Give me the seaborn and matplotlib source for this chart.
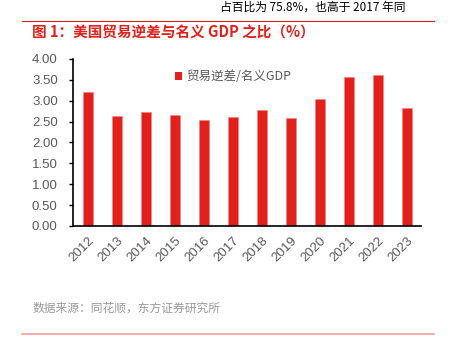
import seaborn as sns
import matplotlib.pyplot as plt
import pandas as pd
from matplotlib.lines import Line2D
from matplotlib.patches import Patch

plt.rcParams['font.family'] = ['Noto Sans CJK SC', 'DejaVu Sans']

YEARS = ["2012", "2013", "2014", "2015", "2016", "2017",
         "2018", "2019", "2020", "2021", "2022", "2023"]
RATIO = [3.22, 2.64, 2.74, 2.67, 2.54, 2.62, 2.79, 2.59, 3.05, 3.58, 3.62, 2.82]
SERIES = "贸易逆差/名义GDP"
TITLE = "图 1：美国贸易逆差与名义 GDP 之比（%）"
SOURCE = "数据来源：同花顺，东方证券研究所"
TOP_TEXT = "占百比为 75.8%，也高于 2017 年同"

RED = "#e2211c"
GRAY = "#595959"


def plot(df):
    fig = plt.figure(figsize=(4.49, 3.52), dpi=100)
    ax = fig.add_axes([0.1626, 0.358, 0.775, 0.4744])

    sns.barplot(x="year", y="ratio", data=df, ax=ax, color=RED,
                width=0.32, saturation=1, edgecolor="#f08080", linewidth=0.4)

    ax.set_ylim(0, 4)
    ax.set_xlim(-0.52, 11.48)
    ax.set_yticks([0, 0.5, 1, 1.5, 2, 2.5, 3, 3.5, 4])
    ax.set_yticklabels([f"{v:.2f}" for v in ax.get_yticks()], fontsize=9.5, color=GRAY,
                       family=['Liberation Sans', 'DejaVu Sans'])
    ax.set_xticks(range(len(YEARS)))
    ax.set_xticklabels(YEARS, rotation=45, ha="right", rotation_mode="anchor",
                       fontsize=9.5, color=GRAY, family=['Liberation Sans', 'DejaVu Sans'])
    ax.tick_params(axis="x", length=0, pad=6)
    ax.tick_params(axis="y", length=3, width=1, color="black", pad=8)
    ax.set_xlabel("")
    ax.set_ylabel("")
    for s in ["top", "right"]:
        ax.spines[s].set_visible(False)
    ax.spines["left"].set_linewidth(1.2)
    ax.spines["bottom"].set_linewidth(1.2)

    handle = Patch(facecolor=RED, edgecolor="none")
    ax.legend([handle], [SERIES], loc="upper left", bbox_to_anchor=(0.26, 1.0),
              frameon=False, fontsize=9, handlelength=0.6, handleheight=0.6,
              handletextpad=0.3, labelcolor=GRAY)

    # header / footer decorations
    fig.add_artist(Line2D([0.05, 0.967], [1 - 21 / 352] * 2, color=RED, linewidth=0.8))
    fig.add_artist(Line2D([0.05, 0.967], [1 - 334 / 352] * 2, color="#f4a0a0", linewidth=1.2))
    fig.text(0.072, 1 - 33 / 352, TITLE, color=RED, fontsize=10.5, fontweight="bold",
             va="center", ha="left")
    fig.text(0.072, 1 - 308 / 352, SOURCE, color="#999999", fontsize=8.5,
             va="center", ha="left")
    fig.text(0.49, 0.998, TOP_TEXT, color="black", fontsize=8.5, va="top", ha="left")

    fig.savefig("out.png", dpi=100)


if __name__ == "__main__":
    df = pd.DataFrame({"year": YEARS, "ratio": RATIO})
    plot(df)
